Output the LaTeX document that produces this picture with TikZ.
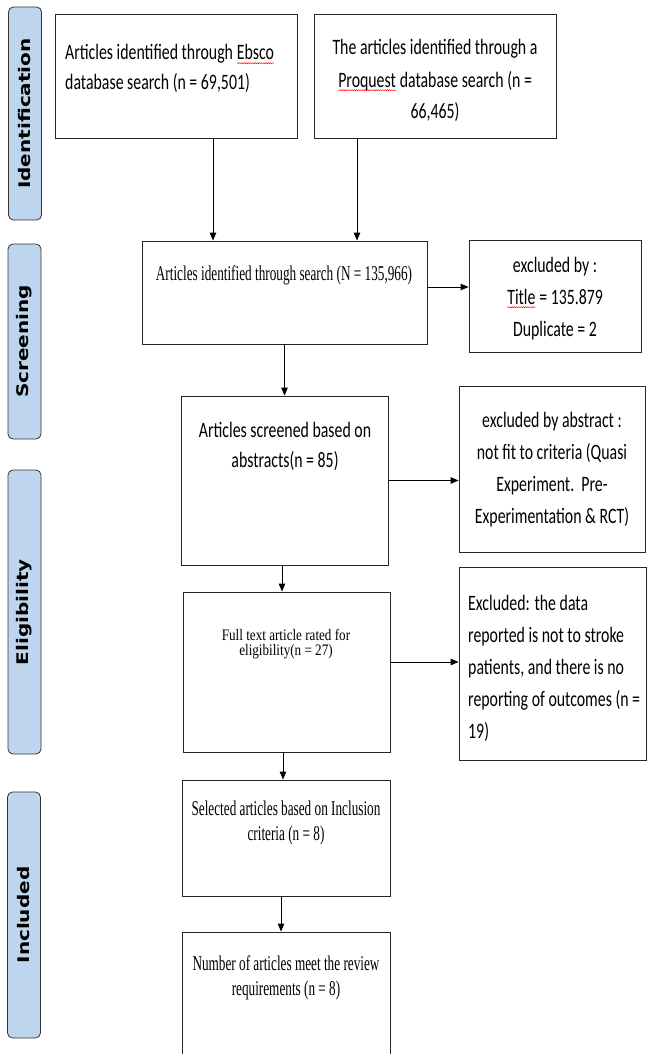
\documentclass[tikz,border=0pt]{standalone}
\usepackage{fontspec}
\usetikzlibrary{arrows.meta,decorations.pathmorphing}
\newfontfamily\calibfont[FakeStretch=0.72]{Carlito}
\newfontfamily\timesfont[FakeStretch=0.63]{Liberation Serif}
\newfontfamily\timesnarrow[FakeStretch=0.82]{Liberation Serif}
\newfontfamily\sidefont{DejaVu Sans}
\definecolor{barblue}{HTML}{BDD6EE}
\newcommand\squiggle[1]{\tikz[baseline=(sq.base)]{\node[inner sep=0pt, outer sep=0pt] (sq) {#1};
	\draw[red, line width=0.45pt, decorate, decoration={snake, amplitude=0.6pt, segment length=2.2pt}]
	([yshift=-3.2pt]sq.base west) -- ([yshift=-3.2pt]sq.base east);}}
\tikzset{
    box/.style={draw=black!85, line width=0.9pt, inner sep=0pt}
}
\tikzset{
    sidebar/.style={draw=black!80, fill=barblue, rounded corners=5pt,
    	line width=0.8pt, rotate=90, minimum height=33pt, inner sep=0pt,
    	font=\sidefont\bfseries\fontsize{20}{24}\selectfont}
}
\tikzset{
    calibtxt/.style={inner sep=0pt, anchor=base, align=center,
    	font=\calibfont\fontsize{22}{32}\selectfont},
    timestxt/.style={inner sep=0pt, anchor=base, align=center,
    	font=\timesfont\fontsize{21}{25}\selectfont}
}
\tikzset{
    arr/.style={-{Triangle[length=8pt,width=6.5pt]}, line width=0.9pt}
}

\begin{document}
\begin{tikzpicture}
  \useasboundingbox (0pt,0pt) rectangle (647pt,-1054pt);

  % stage bars
  \node (ident) [sidebar, minimum width=213pt] at (25pt,-113.5pt) {\scalebox{1}[0.8]{Identification}};
  \node (screen) [sidebar, minimum width=195pt] at (24.5pt,-341.5pt) {\scalebox{1}[0.8]{Screening}};
  \node (elig) [sidebar, minimum width=284pt] at (24.5pt,-612pt) {\scalebox{1}[0.8]{Eligibility}};
  \node (incl) [sidebar, minimum width=246pt] at (24pt,-915pt) {\scalebox{1}[0.8]{Included}};

  % boxes
  \node (ebsco) [box, minimum width=242pt, minimum height=124pt] at (176pt,-76pt) {};
  \node (proq) [box, minimum width=242pt, minimum height=124pt] at (435pt,-76pt) {};
  \node (search) [box, minimum width=285pt, minimum height=103pt] at (284.5pt,-292.5pt) {};
  \node (excl1) [box, minimum width=172pt, minimum height=112pt] at (555pt,-296pt) {};
  \node (screened) [box, minimum width=207pt, minimum height=169pt] at (284.5pt,-480.5pt) {};
  \node (excl2) [box, minimum width=186pt, minimum height=166pt] at (552pt,-469pt) {};
  \node (full) [box, minimum width=207pt, minimum height=160pt] at (286.5pt,-672pt) {};
  \node (excl3) [box, minimum width=187pt, minimum height=193pt] at (552.5pt,-663.5pt) {};
  \node (selected) [box, minimum width=208pt, minimum height=116pt] at (286pt,-838pt) {};
  \node (final) [box, minimum width=208pt, minimum height=138pt] at (286pt,-1001pt) {};

  % texts (anchored at the baseline of their last line)
  \node (ebsco-t) [calibtxt, align=left, anchor=base west,
  	font=\calibfont\fontsize{22}{30}\selectfont] at (65pt,-90pt)
  	{Articles identified through \squiggle{Ebsco}\\database search (n = 69,501)};
  \node (proq-t) [calibtxt] at (435pt,-119pt)
  	{The articles identified through a\\\squiggle{Proquest} database search (n =\\66,465)};
  \node (search-t) [timestxt] at (284pt,-280pt)
  	{Articles identified through search (N = 135,966)};
  \node (excl1-t) [calibtxt] at (555pt,-336pt)
  	{excluded by :\\\squiggle{Title} = 135.879\\Duplicate = 2};
  \node (screened-t) [calibtxt, font=\calibfont\fontsize{22}{30}\selectfont] at (285pt,-467pt)
  	{Articles screened based on\\abstracts(n = 85)};
  \node (excl2-t) [calibtxt] at (552pt,-523pt)
  	{excluded by abstract :\\not fit to criteria (Quasi\\Experiment.\ \ Pre-\\Experimentation \& RCT)};
  \node (full-t) [timestxt, font=\timesnarrow\fontsize{16}{15}\selectfont] at (286pt,-655pt)
  	{Full text article rated for\\eligibility(n = 27)};
  \node (excl3-t) [calibtxt, align=left, anchor=base west] at (468pt,-738pt)
  	{Excluded: the data\\reported is not to stroke\\patients, and there is no\\reporting of outcomes (n =\\19)};
  \node (selected-t) [timestxt] at (286pt,-840pt)
  	{Selected articles based on Inclusion\\criteria (n = 8)};
  \node (final-t) [timestxt] at (286pt,-995pt)
  	{Number of articles meet the review\\requirements (n = 8)};

  % arrows
  \draw[arr] ([xshift=37pt]ebsco.south) -- ([xshift=37pt]ebsco.south |- search.north);
  \draw[arr] ([xshift=-78pt]proq.south) -- ([xshift=-78pt]proq.south |- search.north);
  \draw[arr] (search.south) -- (search.south |- screened.north);
  \draw[arr] ([yshift=5.5pt]search.east) -- ([yshift=5.5pt]search.east -| excl1.west);
  \draw[arr] ([xshift=-2.5pt]screened.south) -- ([xshift=-2.5pt]screened.south |- full.north);
  \draw[arr] (screened.east) -- (screened.east -| excl2.west);
  \draw[arr] ([xshift=-3.5pt]full.south) -- ([xshift=-3.5pt]full.south |- selected.north);
  \draw[arr] ([yshift=10pt]full.east) -- ([yshift=10pt]full.east -| excl3.west);
  \draw[arr] ([xshift=-5pt]selected.south) -- ([xshift=-5pt]selected.south |- final.north);
\end{tikzpicture}
\end{document}
